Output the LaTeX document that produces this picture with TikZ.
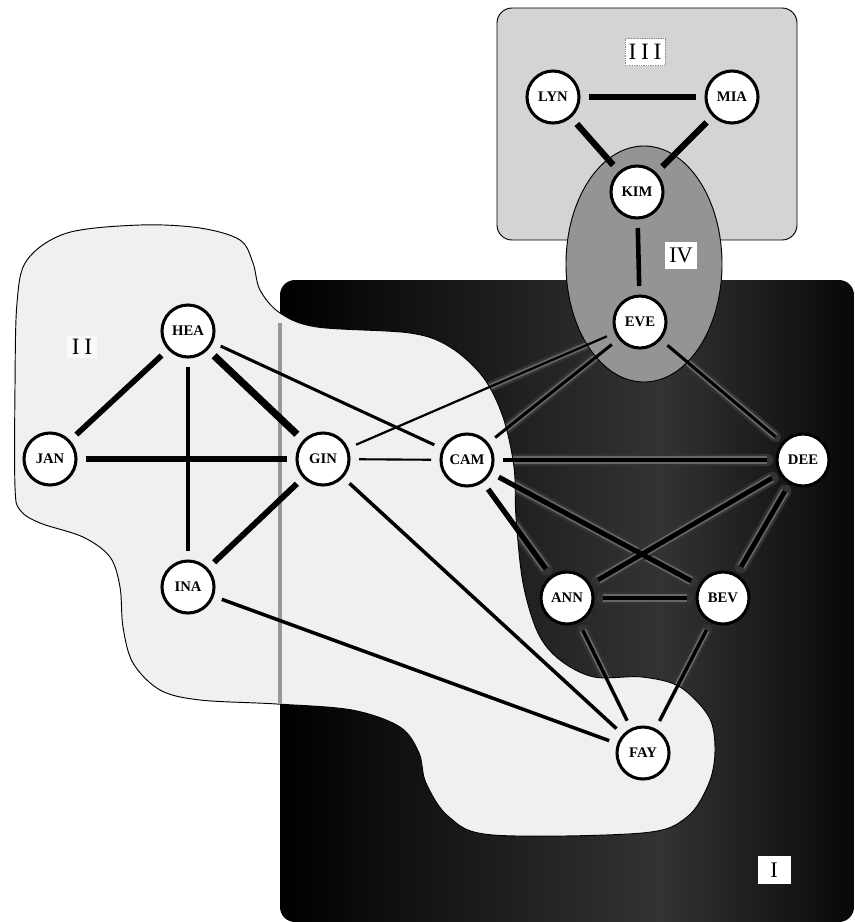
\documentclass[tikz,border=0pt]{standalone}
\usepackage{fontspec}
\setmainfont{Liberation Serif}
\newfontfamily\spacedfont[LetterSpace=20]{Liberation Serif}
\pgfdeclarelayer{regA}
\pgfdeclarelayer{halo}
\pgfdeclarelayer{regB}
\pgfdeclarelayer{edges}
\pgfsetlayers{regA,halo,regB,edges,main}
\begin{document}
\begin{tikzpicture}[x=0.03cm, y=-0.03cm,
  person/.style={circle, draw=black, fill=white, line width=2.6pt,
    minimum size=1.56cm, inner sep=0pt, outer sep=0.3cm,
    font=\bfseries\fontsize{12.5}{13}\selectfont},
  reglabel/.style={fill=white, inner sep=0pt, font=\fontsize{19}{20}\selectfont},
  spacedlabel/.style={reglabel, font=\spacedfont\fontsize{20}{20}\selectfont},
  outerhalo/.style={draw=black!80, line cap=round},
  innerhalo/.style={draw=black!60, line cap=butt},
  regionborder/.style={draw=black, line width=0.8pt}
]
\useasboundingbox (0,0) rectangle (854,922);

% ---------- nodes ----------
\node[person] (LYN) at (553,97)  {LYN};
\node[person] (MIA) at (732,97)  {MIA};
\node[person] (KIM) at (637,192) {KIM};
\node[person] (EVE) at (640,322) {EVE};
\node[person] (HEA) at (188,331) {HEA};
\node[person] (JAN) at (50,459)  {JAN};
\node[person] (GIN) at (323,459) {GIN};
\node[person] (CAM) at (467,460) {CAM};
\node[person] (DEE) at (803,460) {DEE};
\node[person] (ANN) at (567,598) {ANN};
\node[person] (BEV) at (723,598) {BEV};
\node[person] (INA) at (188,587) {INA};
\node[person] (FAY) at (643,753) {FAY};

% ---------- regions ----------
\begin{pgfonlayer}{regA}
  \draw[regionborder, fill=black!17, rounded corners=0.45cm] (497,8) rectangle (797,240);
  \begin{scope}
    \clip[rounded corners=0.45cm] (280,280) rectangle (854,922);
    \shade[left color=black, right color=black!80] (280,280) rectangle (661,922);
    \shade[left color=black!80, right color=black!97] (660,280) rectangle (854,922);
  \end{scope}
\end{pgfonlayer}

\begin{pgfonlayer}{regB}
  \draw[regionborder, fill=black!6] plot[smooth cycle, tension=0.55] coordinates {
    (140,225) (200,228) (240,240) (253,263) (260,290) (280,313) (317,327)
    (410,333) (450,347) (483,377) (503,417) (514,467) (516,517) (523,583)
    (538,633) (560,660) (594,677) (642,677) (680,687) (709,717) (715,750)
    (709,783) (687,817) (642,833) (493,835) (449,817) (426,783) (419,753)
    (400,727) (352,710) (277,704) (200,700) (160,690) (133,663) (123,627)
    (120,587) (110,557) (83,537) (40,523) (20,510) (15,487) (15,387)
    (17,303) (27,260) (67,233)};
  \draw[black!40, line width=3pt] (280,323) -- (280,704);
  \draw[regionborder, fill=black!42] (644,264) ellipse [x radius=2.34cm, y radius=3.54cm];
\end{pgfonlayer}

% ---------- soft halos on the dark ground ----------
\begin{pgfonlayer}{halo}
  \foreach \a/\b/\w in {EVE/GIN/1.9, EVE/CAM/2.6, EVE/DEE/2.6, CAM/DEE/4,
      CAM/ANN/4.6, CAM/BEV/4.3, DEE/ANN/4.1, DEE/BEV/4.1, ANN/BEV/3.2,
      ANN/FAY/2.9, BEV/FAY/2.9} {
    \pgfmathsetmacro\ow{\w+7}
    \pgfmathsetmacro\iw{\w+3}
    \draw[outerhalo, line width=\ow pt] (\a) -- (\b);
    \draw[innerhalo, line width=\iw pt] (\a) -- (\b);
  }
\end{pgfonlayer}

% ---------- edges ----------
\begin{pgfonlayer}{edges}
  \foreach \a/\b/\w in {LYN/MIA/5.4, LYN/KIM/5.4, MIA/KIM/5.4, KIM/EVE/3.9,
      EVE/GIN/1.9, EVE/CAM/2.6, EVE/DEE/2.6, HEA/JAN/4.8, HEA/GIN/6.2,
      HEA/INA/4, HEA/CAM/2.6, JAN/GIN/4.5, GIN/INA/5, GIN/CAM/1.8,
      GIN/FAY/3, INA/FAY/3, CAM/DEE/4, CAM/ANN/4.6, CAM/BEV/4.3,
      DEE/ANN/4.1, DEE/BEV/4.1, ANN/BEV/3.2, ANN/FAY/2.9, BEV/FAY/2.9} {
    \draw[line width=\w pt] (\a) -- (\b);
  }
\end{pgfonlayer}

% ---------- region labels ----------
\node[spacedlabel, draw=black!45, densely dotted, line width=0.5pt,
      minimum width=1.2cm, minimum height=0.81cm] (L3) at (645,52) {III};
\node[reglabel, minimum width=0.96cm, minimum height=0.81cm] (L4) at (681,255) {IV};
\node[spacedlabel, fill=black!2, minimum width=0.9cm, minimum height=0.66cm] (L2) at (82,347) {II};
\node[reglabel, minimum width=0.99cm, minimum height=0.84cm] (L1) at (774,870) {I};
\end{tikzpicture}
\end{document}
